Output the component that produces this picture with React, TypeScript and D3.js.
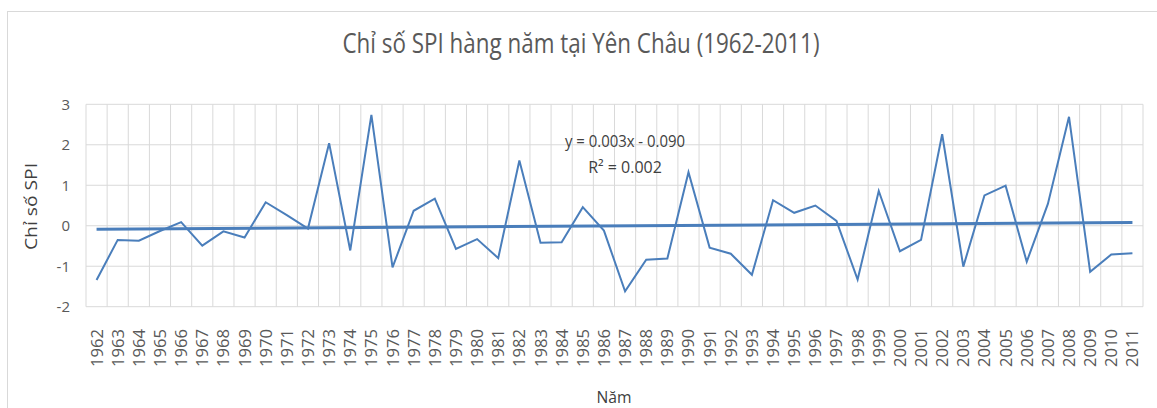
import React from "react";
import * as d3 from "d3";

const years: string[] = [
  "1962", "1963", "1964", "1965", "1966", "1967", "1968", "1969", "1970", "1971",
  "1972", "1973", "1974", "1975", "1976", "1977", "1978", "1979", "1980", "1981",
  "1982", "1983", "1984", "1985", "1986", "1987", "1988", "1989", "1990", "1991",
  "1992", "1993", "1994", "1995", "1996", "1997", "1998", "1999", "2000", "2001",
  "2002", "2003", "2004", "2005", "2006", "2007", "2008", "2009", "2010", "2011",
];

const spi: number[] = [
  -1.34, -0.35, -0.37, -0.13, 0.09, -0.49, -0.14, -0.29, 0.58, 0.26,
  -0.07, 2.04, -0.61, 2.74, -1.03, 0.37, 0.67, -0.57, -0.33, -0.8,
  1.61, -0.42, -0.41, 0.46, -0.12, -1.62, -0.84, -0.81, 1.32, -0.54,
  -0.69, -1.21, 0.63, 0.32, 0.5, 0.12, -1.33, 0.86, -0.63, -0.35,
  2.26, -1.01, 0.75, 0.99, -0.89, 0.54, 2.69, -1.14, -0.71, -0.68,
];

const yTicks: number[] = [-2, -1, 0, 1, 2, 3];

const title = "Chỉ số SPI hàng năm tại Yên Châu (1962-2011)";
const yTitle = "Chỉ số SPI";
const xTitle = "Năm";
const equation = "y = 0.003x - 0.090";
const rSquared = "R² = 0.002";

const width = 1157;
const height = 408;
const plotLeft = 86;
const plotRight = 1143;
const plotTop = 104.3;
const plotBottom = 306.7;

const lineColor = "#4a7ebb";
const gridColor = "#d9d9d9";
const font = "'Open Sans', sans-serif";

export default function App() {
  const x = d3.scaleBand<string>().domain(years).range([plotLeft, plotRight]).padding(0);
  const y = d3.scaleLinear().domain([-2, 3]).range([plotBottom, plotTop]);
  const cx = (yr: string) => (x(yr) as number) + x.bandwidth() / 2;

  const line = d3
    .line<number>()
    .x((_, i) => cx(years[i]))
    .y((d) => y(d));

  // least squares trend on index 1..n, as Excel does
  const n = spi.length;
  const idx = spi.map((_, i) => i + 1);
  const mx = d3.mean(idx) as number;
  const my = d3.mean(spi) as number;
  const slope =
    d3.sum(idx, (v, i) => (v - mx) * (spi[i] - my)) / d3.sum(idx, (v) => (v - mx) ** 2);
  const intercept = my - slope * mx;
  const trend = [1, n].map((k) => ({ px: cx(years[k - 1]), v: intercept + slope * k }));

  return (
    <svg
      width={width}
      height={height}
      style={{ position: "absolute", left: 0, top: 0, background: "#fff" }}
    >
      <rect x={7.5} y={11.5} width={width} height={height} fill="#fff" stroke={gridColor} />

      <text
        x={581}
        y={53}
        textAnchor="middle"
        fontFamily={font}
        fontSize={27}
        fill="#595959"
        textLength={477}
        lengthAdjust="spacingAndGlyphs"
      >
        {title}
      </text>

      {/* horizontal grid */}
      {yTicks.map((t) => (
        <line
          key={"h" + t}
          x1={plotLeft}
          x2={plotRight}
          y1={y(t)}
          y2={y(t)}
          stroke={gridColor}
          strokeWidth={1}
        />
      ))}
      {/* vertical grid at category edges */}
      {years.map((yr) => (
        <line
          key={"v" + yr}
          x1={x(yr) as number}
          x2={x(yr) as number}
          y1={plotTop}
          y2={plotBottom}
          stroke={gridColor}
          strokeWidth={1}
        />
      ))}
      <line x1={plotRight} x2={plotRight} y1={plotTop} y2={plotBottom} stroke={gridColor} />

      {yTicks.map((t) => (
        <text
          key={"yl" + t}
          x={70}
          y={y(t) + 5.5}
          textAnchor="end"
          fontFamily={font}
          fontSize={15}
          fill="#595959"
        >
          {t}
        </text>
      ))}

      {years.map((yr) => (
        <text
          key={"xl" + yr}
          transform={`translate(${cx(yr) + 6},${329}) rotate(-90)`}
          textAnchor="end"
          fontFamily={font}
          fontSize={16}
          fill="#595959"
          textLength={38}
          lengthAdjust="spacingAndGlyphs"
        >
          {yr}
        </text>
      ))}

      <path d={line(spi) as string} fill="none" stroke={lineColor} strokeWidth={2} />
      <line
        x1={trend[0].px}
        x2={trend[1].px}
        y1={y(trend[0].v)}
        y2={y(trend[1].v)}
        stroke={lineColor}
        strokeWidth={3}
      />

      <text
        x={625}
        y={147}
        textAnchor="middle"
        fontFamily={font}
        fontSize={16}
        fill="#404040"
        textLength={120}
        lengthAdjust="spacingAndGlyphs"
      >
        {equation}
      </text>
      <text x={625} y={173} textAnchor="middle" fontFamily={font} fontSize={16} fill="#404040">
        {rSquared}
      </text>

      <text
        transform={`translate(37,206.5) rotate(-90)`}
        textAnchor="middle"
        fontFamily={font}
        fontSize={16}
        fill="#404040"
        textLength={87}
        lengthAdjust="spacingAndGlyphs"
      >
        {yTitle}
      </text>
      <text
        x={614}
        y={403}
        textAnchor="middle"
        fontFamily={font}
        fontSize={17}
        fill="#404040"
        textLength={35}
        lengthAdjust="spacingAndGlyphs"
      >
        {xTitle}
      </text>
    </svg>
  );
}
